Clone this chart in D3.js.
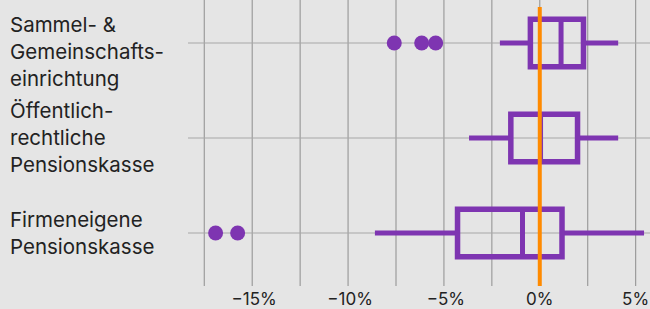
<!DOCTYPE html>
<html>
<head>
<meta charset="utf-8">
<script src="https://cdn.jsdelivr.net/npm/d3@7"></script>
<style>
  body { margin: 0; background: #e5e5e5; }
  svg { display: block; font-family: Inter, 'Noto Sans', sans-serif; }
  .grid-x line { stroke: #9c9c9c; stroke-width: 1.2; }
  .grid-y line { stroke: #a8a8a8; stroke-width: 1.2; }
  .tick-label { fill: #222; font-size: 17px; }
  .cat-label { fill: #222; font-size: 20.5px; }
  .whisker { stroke: #7e35b1; stroke-width: 5; }
  .box { fill: none; stroke: #7e35b1; stroke-width: 5.5; }
  .median { stroke: #7e35b1; stroke-width: 5; }
  .outlier { fill: #7e35b1; }
  .zero-line { stroke: #ff8a00; stroke-width: 4; }
</style>
</head>
<body>
<div id="chart"></div>
<script>
// Categories (label lines) and boxplot statistics in percent
const categories = ['Sammel', 'Oeffentlich', 'Firmeneigen']
const labels = [
  ['Sammel- &', 'Gemeinschafts-', 'einrichtung'],
  ['Öffentlich-', 'rechtliche', 'Pensionskasse'],
  ['Firmeneigene', 'Pensionskasse']
]
const whiskerLow = [-2.08, -3.69, -8.6]
const q1 = [-0.49, -1.51, -4.29]
const median = [1.11, 0.04, -0.9]
const q3 = [2.28, 1.97, 1.16]
const whiskerHigh = [4.09, 4.09, 5.44]
const outliers = [[-7.59, -6.16, -5.43], [], [-16.91, -15.76]]
const gridTicks = [-17.5, -15, -12.5, -10, -7.5, -5, -2.5, 0, 2.5, 5]
const labelTicks = [-15, -10, -5, 0, 5]

const width = 650, height = 309

let svg = d3.select('#chart').append('svg')
    .attr('width', width)
    .attr('height', height)

let xScale = d3.scaleLinear()
    .domain([-18.35, 5.75])
    .range([188, 650])

let yScale = d3.scaleBand()
    .domain(categories)
    .range([-4.5, 280.5])
    .paddingInner(0.5)
    .paddingOuter(0.25)

let gridTop = 0, gridBottom = 286

// Vertical grid
svg.append('g')
  .attr('class', 'grid-x')
  .selectAll('line')
  .data(gridTicks)
  .enter().append('line')
  .attr('x1', d => xScale(d))
  .attr('x2', d => xScale(d))
  .attr('y1', gridTop)
  .attr('y2', gridBottom)

// Horizontal category lines
svg.append('g')
  .attr('class', 'grid-y')
  .selectAll('line')
  .data(categories)
  .enter().append('line')
  .attr('x1', xScale.range()[0])
  .attr('x2', xScale.range()[1])
  .attr('y1', d => yScale(d) + yScale.bandwidth() / 2)
  .attr('y2', d => yScale(d) + yScale.bandwidth() / 2)

// Tick labels
svg.append('g')
  .selectAll('text')
  .data(labelTicks)
  .enter().append('text')
  .attr('class', 'tick-label')
  .attr('x', d => xScale(d) + (d < 0 ? 2 : 0))
  .attr('y', 305)
  .attr('text-anchor', 'middle')
  .text(d => d3.format('')(d).replace('-', '\u2212') + '%')

// Category labels
let lineHeight = 26.7
svg.append('g')
  .selectAll('text')
  .data(categories)
  .enter().append('text')
  .attr('class', 'cat-label')
  .each(function(d, i) {
    let lines = labels[i]
    let cy = yScale(d) + yScale.bandwidth() / 2
    let startY = Math.max(cy - (lines.length - 1) * lineHeight / 2, 25)
    d3.select(this).selectAll('tspan')
      .data(lines)
      .enter().append('tspan')
      .attr('x', 10)
      .attr('y', (l, j) => startY + j * lineHeight)
      .attr('dy', '0.35em')
      .text(l => l)
  })

// Boxplots
let groups = svg.selectAll('.boxplot')
    .data(categories)
    .enter().append('g')
    .attr('class', 'boxplot')

groups.append('line')
  .attr('class', 'whisker')
  .attr('x1', (d, i) => xScale(whiskerLow[i]))
  .attr('x2', (d, i) => xScale(q1[i]))
  .attr('y1', d => yScale(d) + yScale.bandwidth() / 2)
  .attr('y2', d => yScale(d) + yScale.bandwidth() / 2)

groups.append('line')
  .attr('class', 'whisker')
  .attr('x1', (d, i) => xScale(q3[i]))
  .attr('x2', (d, i) => xScale(whiskerHigh[i]))
  .attr('y1', d => yScale(d) + yScale.bandwidth() / 2)
  .attr('y2', d => yScale(d) + yScale.bandwidth() / 2)

groups.append('rect')
  .attr('class', 'box')
  .attr('x', (d, i) => xScale(q1[i]))
  .attr('width', (d, i) => xScale(q3[i]) - xScale(q1[i]))
  .attr('y', d => yScale(d))
  .attr('height', yScale.bandwidth())

groups.append('line')
  .attr('class', 'median')
  .attr('x1', (d, i) => xScale(median[i]))
  .attr('x2', (d, i) => xScale(median[i]))
  .attr('y1', d => yScale(d))
  .attr('y2', d => yScale(d) + yScale.bandwidth())

groups.selectAll('.outlier')
  .data((d, i) => outliers[i].map(v => ({ cat: d, v: v })))
  .enter().append('circle')
  .attr('class', 'outlier')
  .attr('cx', d => xScale(d.v))
  .attr('cy', d => yScale(d.cat) + yScale.bandwidth() / 2)
  .attr('r', 7.5)

// Zero line
svg.append('line')
  .attr('class', 'zero-line')
  .attr('x1', xScale(0))
  .attr('x2', xScale(0))
  .attr('y1', 7)
  .attr('y2', gridBottom)
</script>
</body>
</html>
